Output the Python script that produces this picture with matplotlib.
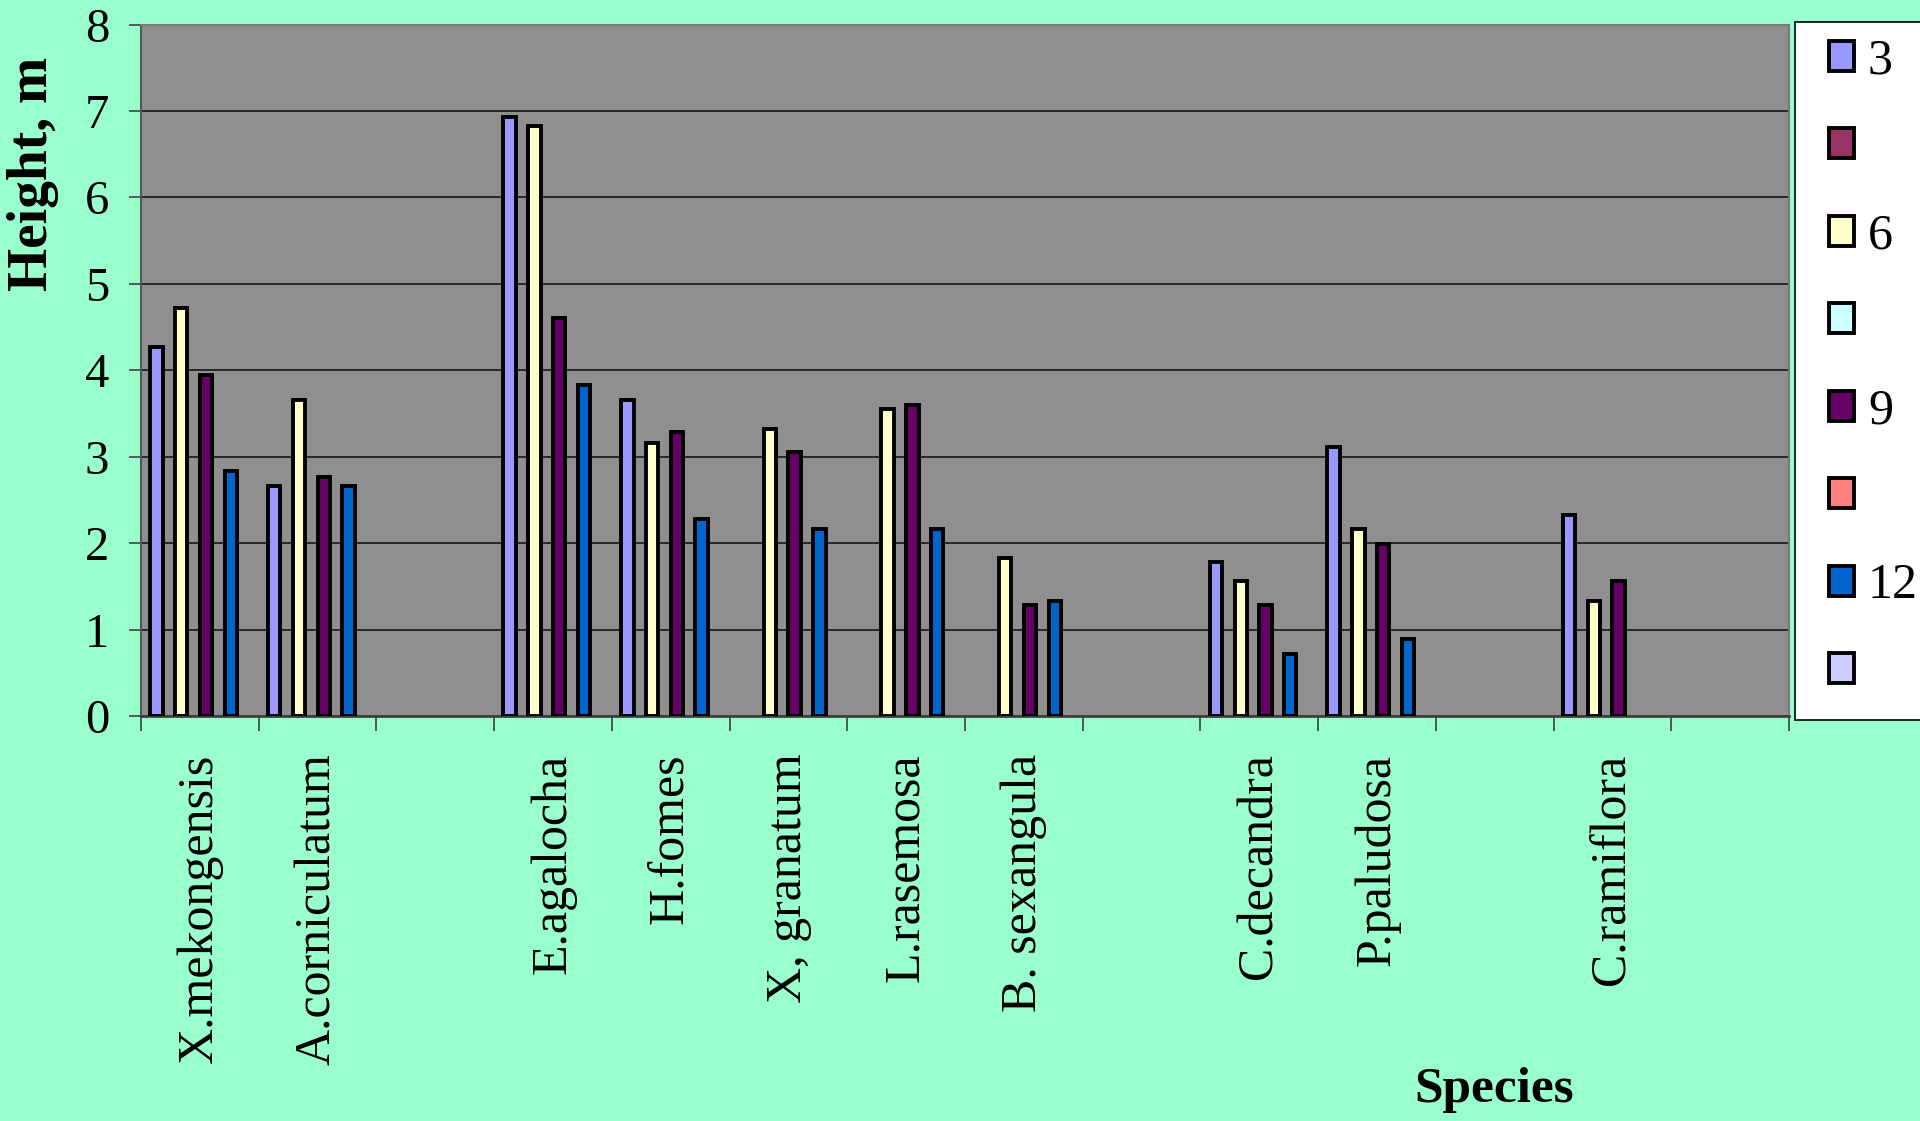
import numpy as np
import matplotlib
matplotlib.use('Agg')
import matplotlib.pyplot as plt
from matplotlib.ticker import FixedLocator
from matplotlib.patches import Rectangle

categories = ['X.mekongensis', 'A.corniculatum', '', 'E.agalocha', 'H.fomes',
              'X, granatum', 'L.rasemosa', 'B. sexangula', '', 'C.decandra',
              'P.paludosa', '', 'C.ramiflora', '']
series_labels = ['3', ' ', '6', ' ', '9', ' ', '12', ' ']
series_colors = ['#9999FF', '#993366', '#FFFFCC', '#CCFFFF',
                 '#660066', '#FF8080', '#0066CC', '#CCCCFF']
nan = np.nan
h3 = [4.27, 2.66, nan, 6.93, 3.66, nan, nan, nan, nan, 1.78, 3.11, nan, 2.33, nan]
h_b = [nan] * 14
h6 = [4.72, 3.66, nan, 6.82, 3.16, 3.32, 3.55, 1.83, nan, 1.56, 2.16, nan, 1.33, nan]
h_d = [nan] * 14
h9 = [3.94, 2.77, nan, 4.60, 3.28, 3.05, 3.60, 1.28, nan, 1.28, 1.99, nan, 1.56, nan]
h_f = [nan] * 14
h12 = [2.83, 2.66, nan, 3.83, 2.28, 2.16, 2.16, 1.33, nan, 0.72, 0.89, nan, nan, nan]
h_h = [nan] * 14
series_values = [h3, h_b, h6, h_d, h9, h_f, h12, h_h]

plt.rcParams['font.family'] = ['Liberation Serif', 'DejaVu Serif']

fig = plt.figure(figsize=(19.2, 11.21), dpi=100)
fig.patch.set_facecolor('#99FFCC')
ax = fig.add_axes([141 / 1920, 1 - 716 / 1121, (1789 - 141) / 1920, (716 - 24.5) / 1121])
ax.set_facecolor('#8F8F8F')

n = len(series_values)
slot = 1 / (n + 1.5)
x = np.arange(len(categories))
handles = []
for j, (vals, col) in enumerate(zip(series_values, series_colors)):
    off = (j - (n - 1) / 2) * slot
    bc = ax.bar(x + off, np.array(vals, dtype=float), width=slot, color=col,
                edgecolor='black', linewidth=2.8, zorder=3)
    handles.append(bc)

ax.set_xlim(-0.5, len(categories) - 0.5)
ax.set_ylim(0, 8)
ax.set_yticks(range(0, 9))
ax.yaxis.grid(True, color='#202020', linewidth=1.3, zorder=1)
ax.set_axisbelow(True)

ax.set_xticks(x)
ax.set_xticklabels(categories, rotation=90, fontsize=36, va='top', ha='center')
ax.tick_params(axis='x', which='major', length=0, pad=27)
ax.xaxis.set_minor_locator(FixedLocator(np.arange(-0.5, len(categories), 1.0)))
ax.tick_params(axis='x', which='minor', length=11, width=1.2, color='#404040', direction='out')
ax.tick_params(axis='y', which='major', length=9, width=1.2, color='#404040', labelsize=35, pad=14)

for s in ['top', 'right']:
    ax.spines[s].set_color('#7A7A7A')
    ax.spines[s].set_linewidth(1.5)
ax.spines['left'].set_color('#555555')
ax.spines['left'].set_linewidth(1.5)
ax.spines['bottom'].set_color('#404040')
ax.spines['bottom'].set_linewidth(2)

fig.text(33 / 1920, 1 - 174 / 1121, 'Height, m', rotation=90, ha='center', va='center',
         fontsize=40, fontweight='bold')
fig.text(1494 / 1920, 1 - 1090 / 1121, 'Species', ha='center', va='center',
         fontsize=37, fontweight='bold')

# legend frame
fig.add_artist(Rectangle((1795 / 1920, 1 - 720 / 1121), 140 / 1920, (720 - 22) / 1121,
                         transform=fig.transFigure, facecolor='white', edgecolor='black',
                         linewidth=1.2, zorder=1))
leg = fig.legend(handles, series_labels, loc='upper left',
                 bbox_to_anchor=(1829 / 1920, 1 - 38 / 1121), borderaxespad=0,
                 fontsize=36, handlelength=0.5, handleheight=0.55, handletextpad=0.28,
                 labelspacing=0.82, borderpad=0.0, frameon=False)
leg.set_zorder(2)

fig.savefig('out.png', dpi=100, facecolor=fig.get_facecolor())
